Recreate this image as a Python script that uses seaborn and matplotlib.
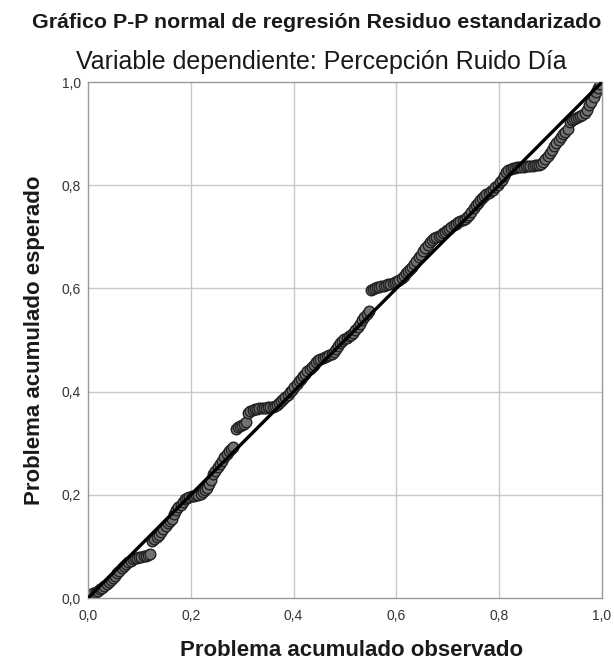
import matplotlib
matplotlib.use("Agg")
import matplotlib.pyplot as plt
import seaborn as sns
import pandas as pd

# observed cumulative probability
observed = [
    0.002, 0.006, 0.010, 0.015, 0.019, 0.023, 0.027, 0.032, 0.036, 0.040, 0.044, 0.049,
    0.053, 0.057, 0.061, 0.066, 0.070, 0.074, 0.078, 0.083, 0.087, 0.091, 0.095, 0.100,
    0.104, 0.108, 0.112, 0.117, 0.121, 0.125, 0.129, 0.134, 0.138, 0.142, 0.146, 0.151,
    0.155, 0.159, 0.163, 0.168, 0.172, 0.176, 0.180, 0.185, 0.189, 0.193, 0.197, 0.202,
    0.206, 0.210, 0.214, 0.219, 0.223, 0.227, 0.231, 0.236, 0.240, 0.244, 0.248, 0.253,
    0.257, 0.261, 0.265, 0.270, 0.274, 0.278, 0.282, 0.287, 0.291, 0.295, 0.299, 0.304,
    0.308, 0.312, 0.316, 0.321, 0.325, 0.329, 0.333, 0.338, 0.342, 0.346, 0.350, 0.355,
    0.359, 0.363, 0.367, 0.372, 0.376, 0.380, 0.384, 0.389, 0.393, 0.397, 0.401, 0.406,
    0.410, 0.414, 0.418, 0.423, 0.427, 0.431, 0.435, 0.440, 0.444, 0.448, 0.452, 0.457,
    0.461, 0.465, 0.469, 0.474, 0.478, 0.482, 0.486, 0.491, 0.495, 0.499, 0.503, 0.508,
    0.512, 0.516, 0.520, 0.525, 0.529, 0.533, 0.537, 0.542, 0.546, 0.550, 0.554, 0.559,
    0.563, 0.567, 0.571, 0.576, 0.580, 0.584, 0.588, 0.593, 0.597, 0.601, 0.605, 0.610,
    0.614, 0.618, 0.622, 0.627, 0.631, 0.635, 0.639, 0.644, 0.648, 0.652, 0.656, 0.661,
    0.665, 0.669, 0.673, 0.678, 0.682, 0.686, 0.690, 0.695, 0.699, 0.703, 0.707, 0.712,
    0.716, 0.720, 0.724, 0.729, 0.733, 0.737, 0.741, 0.746, 0.750, 0.754, 0.758, 0.763,
    0.767, 0.771, 0.775, 0.780, 0.784, 0.788, 0.792, 0.797, 0.801, 0.805, 0.809, 0.814,
    0.818, 0.822, 0.826, 0.831, 0.835, 0.839, 0.843, 0.848, 0.852, 0.856, 0.860, 0.865,
    0.869, 0.873, 0.877, 0.882, 0.886, 0.890, 0.894, 0.899, 0.903, 0.907, 0.911, 0.916,
    0.920, 0.924, 0.928, 0.933, 0.937, 0.941, 0.945, 0.950, 0.954, 0.958, 0.962, 0.967,
    0.971, 0.975, 0.979, 0.984, 0.988, 0.992, 0.996,
]
# expected cumulative probability
expected = [
    0.004, 0.006, 0.009, 0.012, 0.014, 0.017, 0.020, 0.024, 0.028, 0.031, 0.034, 0.038,
    0.043, 0.048, 0.053, 0.058, 0.062, 0.066, 0.069, 0.072, 0.075, 0.077, 0.078, 0.079,
    0.080, 0.081, 0.082, 0.084, 0.086, 0.110, 0.114, 0.118, 0.122, 0.128, 0.134, 0.140,
    0.146, 0.150, 0.153, 0.163, 0.170, 0.176, 0.181, 0.186, 0.191, 0.194, 0.196, 0.197,
    0.198, 0.199, 0.200, 0.202, 0.205, 0.209, 0.214, 0.220, 0.228, 0.240, 0.246, 0.253,
    0.260, 0.266, 0.274, 0.280, 0.285, 0.289, 0.293, 0.328, 0.331, 0.334, 0.336, 0.338,
    0.341, 0.358, 0.362, 0.364, 0.366, 0.367, 0.368, 0.368, 0.369, 0.369, 0.370, 0.370,
    0.371, 0.372, 0.374, 0.377, 0.381, 0.385, 0.389, 0.394, 0.399, 0.403, 0.408, 0.414,
    0.420, 0.425, 0.430, 0.434, 0.439, 0.443, 0.447, 0.452, 0.457, 0.461, 0.463, 0.465,
    0.467, 0.469, 0.471, 0.473, 0.476, 0.482, 0.488, 0.494, 0.498, 0.501, 0.504, 0.507,
    0.510, 0.514, 0.519, 0.525, 0.531, 0.538, 0.545, 0.551, 0.557, 0.597, 0.599, 0.601,
    0.602, 0.603, 0.604, 0.605, 0.607, 0.608, 0.609, 0.611, 0.613, 0.615, 0.617, 0.621,
    0.625, 0.629, 0.633, 0.637, 0.642, 0.648, 0.654, 0.660, 0.665, 0.672, 0.678, 0.684,
    0.689, 0.694, 0.697, 0.700, 0.702, 0.704, 0.707, 0.710, 0.713, 0.716, 0.719, 0.722,
    0.725, 0.728, 0.731, 0.733, 0.735, 0.738, 0.742, 0.748, 0.755, 0.761, 0.766, 0.771,
    0.776, 0.780, 0.783, 0.785, 0.788, 0.791, 0.796, 0.801, 0.806, 0.810, 0.817, 0.825,
    0.830, 0.832, 0.833, 0.834, 0.835, 0.835, 0.836, 0.836, 0.837, 0.837, 0.838, 0.838,
    0.839, 0.839, 0.840, 0.841, 0.844, 0.850, 0.856, 0.862, 0.869, 0.876, 0.882, 0.888,
    0.894, 0.899, 0.904, 0.908, 0.922, 0.926, 0.928, 0.930, 0.932, 0.934, 0.936, 0.940,
    0.946, 0.955, 0.962, 0.970, 0.980, 0.988, 0.996,
]
ref_line = [0.0, 1.0]
ticks = [0.0, 0.2, 0.4, 0.6, 0.8, 1.0]
tick_labels = ["0,0", "0,2", "0,4", "0,6", "0,8", "1,0"]

title = "Gráfico P-P normal de regresión Residuo estandarizado"
subtitle = "Variable dependiente: Percepción Ruido Día"
xlabel = "Problema acumulado observado"
ylabel = "Problema acumulado esperado"

sns.set_style("white")
plt.rcParams["font.family"] = ["Liberation Sans", "DejaVu Sans"]

df = pd.DataFrame({"obs": observed, "exp": expected})

fig = plt.figure(figsize=(6.14, 6.64), dpi=100)
ax = fig.add_axes([88 / 614, 1 - 598 / 664, (602 - 88) / 614, (598 - 82) / 664])

for t in ticks[1:-1]:
    ax.axvline(t, color="#c8c8c8", lw=1.0, zorder=0)
    ax.axhline(t, color="#c8c8c8", lw=1.0, zorder=0)

sns.scatterplot(data=df, x="obs", y="exp", ax=ax, s=58, color="#727272",
                edgecolor="#222222", linewidth=1.0, zorder=2, legend=False)
sns.lineplot(x=ref_line, y=ref_line, ax=ax, color="black", lw=2.4, zorder=3)

ax.set_xlim(0, 1)
ax.set_ylim(0, 1)
ax.set_xticks(ticks)
ax.set_yticks(ticks)
ax.set_xticklabels(tick_labels, fontsize=10, color="#333333")
ax.set_yticklabels(tick_labels, fontsize=10, color="#333333")
ax.tick_params(axis="both", length=0)
ax.tick_params(axis="x", pad=8)
ax.tick_params(axis="y", pad=5)
for sp in ax.spines.values():
    sp.set_color("#999999")
    sp.set_linewidth(1.0)
ax.set_xlabel("")
ax.set_ylabel("")

fig.text(0.515, 1 - 23 / 664, title, ha="center", va="center", fontsize=15.4,
         fontweight="bold", color="#1a1a1a")
fig.text(0.524, 1 - 62 / 664, subtitle, ha="center", va="center", fontsize=18,
         color="#1a1a1a")
fig.text(0.573, 1 - 651 / 664, xlabel, ha="center", va="center", fontsize=16,
         fontweight="bold", color="#1a1a1a")
fig.text(35 / 614, 1 - 340 / 664, ylabel, ha="center", va="center", fontsize=16,
         fontweight="bold", color="#1a1a1a", rotation=90)

fig.savefig("out.png", dpi=100)
